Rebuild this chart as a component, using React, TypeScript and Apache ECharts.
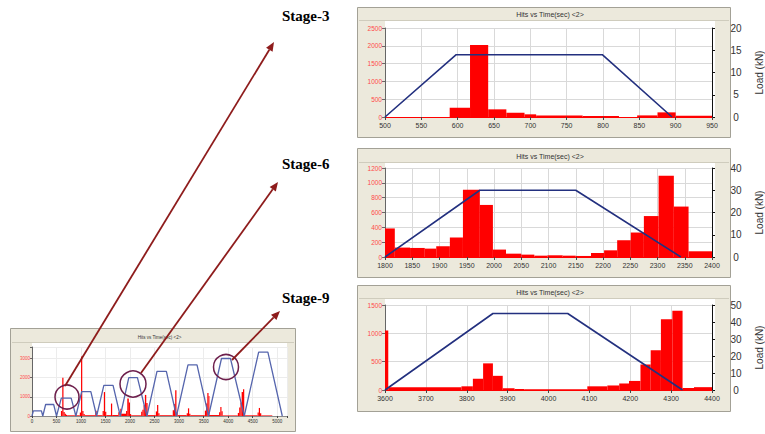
import React, { useEffect, useRef } from "react";
import * as echarts from "echarts";

// Histogram bins: [start time (s), end time (s), hits]
const stage3Hits: number[][] = [
  [589, 617, 260], [617, 642, 2020], [642, 667, 215], [667, 692, 120],
  [692, 708, 75], [708, 772, 45], [772, 822, 25], [847, 875, 45],
  [875, 900, 130], [900, 950, 35],
];

const stage6Hits: number[][] = [
  [1800, 1818, 385], [1818, 1846, 127], [1846, 1873, 122], [1873, 1894, 113],
  [1894, 1919, 145], [1919, 1943, 263], [1943, 1974, 906], [1974, 1998, 702],
  [1998, 2022, 100], [2022, 2050, 45], [2050, 2074, 32], [2074, 2098, 18],
  [2098, 2126, 23], [2126, 2150, 18], [2150, 2178, 14], [2178, 2202, 54],
  [2202, 2226, 90], [2226, 2251, 226], [2251, 2275, 330], [2275, 2302, 552],
  [2302, 2330, 1096], [2330, 2357, 680], [2357, 2400, 77],
];

const stage9Hits: number[][] = [
  [3600, 3608, 1050], [3608, 3787, 50], [3787, 3815, 65], [3815, 3840, 200],
  [3840, 3864, 470], [3864, 3888, 250], [3888, 3917, 30], [3917, 3941, 18],
  [3941, 4095, 12], [4095, 4144, 65], [4144, 4173, 80], [4173, 4197, 115],
  [4197, 4225, 160], [4225, 4250, 450], [4250, 4275, 700], [4275, 4303, 1250],
  [4303, 4328, 1400], [4328, 4356, 35], [4356, 4400, 50],
];

const overviewHits: number[][] = [
  [590, 617, 260], [617, 642, 2000], [642, 667, 215], [667, 692, 120], [692, 717, 60],
  [717, 875, 35], [875, 900, 130], [900, 975, 35],
  [975, 1000, 180], [1000, 1025, 3100], [1025, 1050, 260], [1050, 1075, 110],
  [1075, 1290, 40], [1290, 1318, 280], [1318, 1440, 40],
  [1440, 1465, 260], [1465, 1490, 1250], [1490, 1515, 220], [1515, 1610, 45],
  [1610, 1635, 650], [1635, 1760, 50], [1760, 1785, 200],
  [1800, 1818, 380], [1818, 1918, 120], [1918, 1943, 260], [1943, 1974, 910],
  [1974, 1998, 700], [1998, 2022, 100], [2022, 2226, 35], [2226, 2251, 220],
  [2251, 2275, 330], [2275, 2302, 560], [2302, 2330, 1100], [2330, 2357, 680],
  [2357, 2525, 45], [2525, 2550, 240], [2550, 2575, 570], [2575, 2600, 150],
  [2600, 2870, 40], [2870, 2895, 300], [2895, 2920, 620], [2920, 2946, 1350],
  [2946, 2970, 180], [2970, 3155, 45], [3155, 3180, 150], [3180, 3205, 400],
  [3205, 3230, 120], [3230, 3525, 40], [3525, 3550, 280], [3550, 3575, 650],
  [3575, 3600, 1200], [3600, 3608, 1050], [3608, 3815, 50], [3815, 3840, 200],
  [3840, 3864, 470], [3864, 3888, 250], [3888, 4197, 30], [4197, 4225, 160],
  [4225, 4250, 450], [4250, 4275, 700], [4275, 4303, 1250], [4303, 4328, 1400],
  [4328, 4600, 35], [4600, 4625, 180], [4625, 4650, 420], [4650, 4675, 150],
  [4675, 4900, 30],
];

// Load path vertices: [time (s), load (kN)]
const stage3Load: number[][] = [[500, 0], [598, 14], [799, 14], [895, 0]];
const stage6Load: number[][] = [[1800, 0], [1974, 30], [2150, 30], [2343, 0]];
const stage9Load: number[][] = [[3600, 0], [3864, 45], [4047, 45], [4328, 0]];
const overviewLoad: number[][] = [
  [0, 0], [28, 4], [192, 4], [220, 0],
  [278, 9], [442, 9], [500, 0],
  [598, 14], [799, 14], [895, 0],
  [1013, 19], [1200, 19], [1318, 0],
  [1465, 24], [1653, 24], [1800, 0],
  [1974, 30], [2150, 30], [2343, 0],
  [2549, 35], [2740, 35], [2946, 0],
  [3181, 40], [3365, 40], [3600, 0],
  [3864, 45], [4047, 45], [4328, 0],
  [4622, 50], [4810, 50], [5104, 0],
];

// Axis ranges: [min, max, interval]
const timeRanges: number[][] = [[500, 950, 50], [1800, 2400, 50], [3600, 4400, 100], [0, 5200, 500]];
const hitRanges: number[][] = [[0, 2500, 500], [0, 1200, 200], [0, 1500, 500], [0, 3600, 1000]];
const loadRanges: number[][] = [[0, 20, 5], [0, 40, 10], [0, 50, 10], [0, 54, 10]];

const stageNames = ["Stage-3", "Stage-6", "Stage-9"];
const chartTitle = "Hits vs Time(sec) <2>";
const loadAxisName = "Load (kN)";

const hitsByPanel = [stage3Hits, stage6Hits, stage9Hits, overviewHits];
const loadByPanel = [stage3Load, stage6Load, stage9Load, overviewLoad];

const SANS = '"Liberation Sans", Arial, sans-serif';
const SERIF = '"Liberation Serif", "Times New Roman", serif';

// Panel layout: window frame, white plot backdrop and the grid itself
const panels = [
  { frame: [357, 7, 373, 130], bg: [385, 21, 330, 96], titleY: 14, grid: [385, 28, 330, 89] },
  { frame: [357, 148, 373, 129], bg: [385, 163, 330, 94], titleY: 156, grid: [385, 168, 330, 89] },
  { frame: [357, 285, 373, 126], bg: [385, 299, 330, 91], titleY: 292, grid: [385, 305, 330, 85] },
  { frame: [10, 328, 285, 103], bg: [32, 343, 255, 73], titleY: 337, grid: [32, 347, 255, 69] },
];

function arrow(x1: number, y1: number, x2: number, y2: number, color: string) {
  const dx = x2 - x1;
  const dy = y2 - y1;
  const len = Math.hypot(dx, dy);
  const ux = dx / len;
  const uy = dy / len;
  const hl = 9;
  const hw = 3.8;
  const bx = x2 - ux * hl;
  const by = y2 - uy * hl;
  return [
    { type: "line", z: 100, shape: { x1, y1, x2: bx, y2: by }, style: { stroke: color, lineWidth: 1.8 } },
    {
      type: "polygon",
      z: 100,
      shape: { points: [[x2, y2], [bx - uy * hw, by + ux * hw], [bx + uy * hw, by - ux * hw]] },
      style: { fill: color },
    },
  ];
}

export default function App() {
  const ref = useRef<HTMLDivElement>(null);

  useEffect(() => {
    document.body.style.margin = "0";
    if (!ref.current) return;
    const chart = echarts.init(ref.current, undefined, { renderer: "svg" });

    const isOverview = (i: number) => i === 3;

    const grid = panels.map((p) => ({
      left: p.grid[0], top: p.grid[1], width: p.grid[2], height: p.grid[3], containLabel: false,
    }));

    const xAxis = timeRanges.map((r, i) => ({
      type: "value",
      gridIndex: i,
      min: r[0],
      max: r[1],
      interval: r[2],
      axisLine: { show: true, onZero: false, lineStyle: { color: isOverview(i) ? "#8a8a8a" : "#ff0000", width: 1 } },
      axisTick: { show: true, length: isOverview(i) ? 2 : 3, lineStyle: { color: "#444" } },
      axisLabel: {
        fontSize: isOverview(i) ? 4.5 : 7,
        color: "#333",
        fontFamily: SANS,
        margin: isOverview(i) ? 3 : 5,
        formatter: (v: number) => (isOverview(i) && v % 500 !== 0 ? "" : String(v)),
      },
      splitLine: { show: true, lineStyle: { color: isOverview(i) ? "#ececec" : "#d9d9d9", width: 1 } },
    }));

    const yAxis: any[] = [];
    hitRanges.forEach((r, i) => {
      yAxis.push({
        type: "value",
        gridIndex: i,
        position: "left",
        min: r[0],
        max: r[1],
        interval: r[2],
        axisLine: { show: true, lineStyle: { color: "#666" } },
        axisTick: { show: true, length: isOverview(i) ? 2 : 3, lineStyle: { color: "#666" } },
        axisLabel: {
          fontSize: isOverview(i) ? 4.5 : 6.5,
          color: "#ff4a4a",
          fontFamily: SANS,
          margin: isOverview(i) ? 2 : 3,
          formatter: (v: number) => (v % r[2] !== 0 ? "" : String(v)),
        },
        splitLine: { show: true, lineStyle: { color: isOverview(i) ? "#ececec" : "#d9d9d9", width: 1 } },
      });
    });
    loadRanges.forEach((r, i) => {
      const hidden = isOverview(i);
      yAxis.push({
        type: "value",
        gridIndex: i,
        position: "right",
        min: r[0],
        max: r[1],
        interval: r[2],
        show: !hidden,
        name: hidden ? "" : loadAxisName,
        nameLocation: "middle",
        nameRotate: 90,
        nameGap: 42,
        nameTextStyle: { fontSize: 10, color: "#333", fontFamily: SANS },
        axisLine: { show: !hidden, lineStyle: { color: "#111" } },
        axisTick: { show: !hidden, length: 3, lineStyle: { color: "#111" } },
        axisLabel: { show: !hidden, fontSize: 10, color: "#333", fontFamily: SANS, margin: 24, align: "center" },
        splitLine: { show: false },
      });
    });

    const series: any[] = [];
    hitsByPanel.forEach((data, i) => {
      series.push({
        type: "custom",
        xAxisIndex: i,
        yAxisIndex: i,
        clip: true,
        z: 3,
        encode: { x: [0, 1], y: 2 },
        data,
        renderItem: (_params: any, api: any) => {
          const top = api.coord([api.value(0), api.value(2)]);
          const base = api.coord([api.value(1), 0]);
          return {
            type: "rect",
            shape: {
              x: top[0],
              y: top[1],
              width: Math.max(base[0] - top[0], 0.9),
              height: Math.max(base[1] - top[1], 0.6),
            },
            style: { fill: "#ff0000" },
          };
        },
      });
    });
    loadByPanel.forEach((data, i) => {
      series.push({
        type: "line",
        xAxisIndex: i,
        yAxisIndex: 4 + i,
        data,
        showSymbol: false,
        symbol: "none",
        z: 5,
        lineStyle: { color: isOverview(i) ? "#5565ad" : "#23307f", width: isOverview(i) ? 1.3 : 1.6 },
      });
    });

    const graphic: any[] = [];
    panels.forEach((p, i) => {
      const [fx, fy, fw, fh] = p.frame;
      const [bx, by, bw, bh] = p.bg;
      graphic.push({
        type: "rect", z: -20, shape: { x: fx + 0.5, y: fy + 0.5, width: fw, height: fh },
        style: { fill: "#ece9dc", stroke: "#a3a196", lineWidth: 1 },
      });
      graphic.push({
        type: "line", z: -19, shape: { x1: fx + 2, y1: by - 0.5, x2: fx + fw - 1, y2: by - 0.5 },
        style: { stroke: "#cfccbd", lineWidth: 1 },
      });
      graphic.push({
        type: "rect", z: -18, shape: { x: bx, y: by, width: bw, height: bh },
        style: { fill: "#ffffff" },
      });
      graphic.push({
        type: "text", z: -17, x: p.grid[0] + p.grid[2] / 2, y: p.titleY,
        style: {
          text: chartTitle, fontSize: isOverview(i) ? 4.5 : 7, fontFamily: SANS, fill: "#333",
          align: "center", verticalAlign: "middle",
        },
      });
    });

    // Stage labels beside the detail panels
    const labelYs = [16, 164, 298];
    stageNames.forEach((name, i) => {
      graphic.push({
        type: "text", z: 100, x: 282, y: labelYs[i],
        style: {
          text: name, fontSize: 15, fontWeight: "bold", fontFamily: SERIF, fill: "#000",
          align: "left", verticalAlign: "middle",
        },
      });
    });

    // Rings on the overview marking each stage's hold
    const rings = [[67, 397, 12], [133, 384, 13], [226, 367, 12.5]];
    rings.forEach(([cx, cy, r]) => {
      graphic.push({
        type: "circle", z: 100, shape: { cx, cy, r },
        style: { fill: "none", stroke: "#6d1f4c", lineWidth: 1.5 },
      });
    });

    const arrowColor = "#8e1c1c";
    graphic.push(...arrow(65, 386, 274, 42, arrowColor));
    graphic.push(...arrow(141, 373, 278, 182, arrowColor));
    graphic.push(...arrow(232, 360, 280, 311, arrowColor));

    chart.setOption({
      animation: false,
      backgroundColor: "#ffffff",
      grid,
      xAxis,
      yAxis,
      series,
      graphic,
    });

    return () => {
      chart.dispose();
    };
  }, []);

  return <div ref={ref} style={{ width: 765, height: 434 }} />;
}
